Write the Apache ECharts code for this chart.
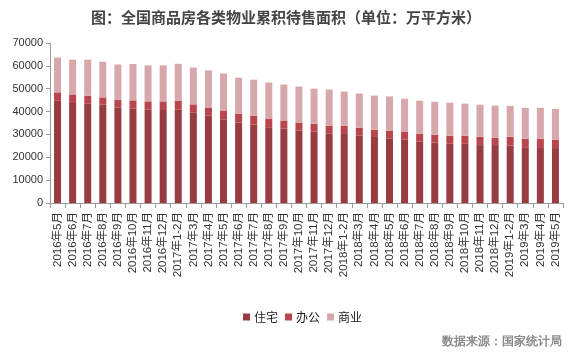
<!DOCTYPE html>
<html>
<head>
<meta charset="utf-8">
<script src="https://cdn.jsdelivr.net/npm/echarts@6/dist/echarts.min.js"></script>
<style>html,body{margin:0;padding:0;background:#fff;}#c{width:572px;height:356px;}</style>
</head>
<body>
<div id="c"></div>
<script>
const categories = ['2016年5月','2016年6月','2016年7月','2016年8月','2016年9月','2016年10月','2016年11月','2016年12月',
  '2017年1-2月','2017年3月','2017年4月','2017年5月','2017年6月','2017年7月','2017年8月','2017年9月','2017年10月','2017年11月','2017年12月',
  '2018年1-2月','2018年3月','2018年4月','2018年5月','2018年6月','2018年7月','2018年8月','2018年9月','2018年10月','2018年11月','2018年12月',
  '2019年1-2月','2019年3月','2019年4月','2019年5月'];
const residential = [44700,43750,43400,43000,41800,41400,40950,40700,40800,39650,38200,36600,35150,34260,33150,32500,31780,31200,30470,30190,29440,28870,28300,27700,26830,26400,25950,25870,25300,24930,25150,24420,24050,23620];
const office = [3700,3750,3500,3200,3400,3500,3500,3750,3960,3500,3570,3850,3950,3940,3800,3580,3420,3490,3350,3630,3500,3200,3400,3350,3490,3480,3490,3570,3700,3640,3850,3710,4080,4070];
const commercial = [15200,15200,15800,15600,15400,15900,15750,15750,16140,16100,16260,16200,15720,15740,15750,15720,15750,15310,15820,14940,14940,14940,14940,14580,14440,14440,14440,14000,14000,14000,13500,13490,13490,13490];
const yTicks = [0,10000,20000,30000,40000,50000,60000,70000];
const seriesNames = ['住宅','办公','商业'];
const colors = ['#973c41','#b9464d','#d6a7ab'];

const font = '"Liberation Sans", "Noto Sans CJK SC", sans-serif';
const chart = echarts.init(document.getElementById('c'), null, {renderer:'canvas'});
const mk = (name, data, i) => ({
  name, type:'bar', stack:'total', data, barWidth:7,
  itemStyle:{color:colors[i]}
});
chart.setOption({
  animation:false,
  backgroundColor:'#fff',
  color:colors,
  title:{
    text:'图：全国商品房各类物业累积待售面积（单位：万平方米）',
    left:'center', top:5,
    textStyle:{fontSize:15, fontWeight:'bold', color:'#444', fontFamily:'"Noto Sans CJK SC", sans-serif'}
  },
  legend:{
    data:seriesNames, top:306, left:238,
    itemWidth:7, itemHeight:7, itemGap:7,
    icon:'rect',
    textStyle:{fontSize:12, color:'#222', fontFamily:'"Noto Sans CJK SC", sans-serif', padding:[0,0,0,-1]}
  },
  grid:{left:50, right:9, top:43, bottom:153, containLabel:false},
  xAxis:{
    type:'category', data:categories,
    axisLine:{lineStyle:{color:'#999'}},
    axisTick:{show:true, alignWithLabel:false, length:5, lineStyle:{color:'#999'}},
    axisLabel:{rotate:90, interval:0, fontSize:11.5, color:'#333', fontFamily:font, margin:9}
  },
  yAxis:{
    type:'value', min:yTicks[0], max:yTicks[yTicks.length-1], interval:10000,
    axisLine:{show:true, lineStyle:{color:'#999'}},
    axisTick:{show:true, length:4, lineStyle:{color:'#999'}},
    splitLine:{show:false},
    axisLabel:{fontSize:11, color:'#333', fontFamily:font, margin:7, formatter:v => String(v)}
  },
  graphic:[{
    type:'text', right:10, top:336,
    style:{text:'数据来源：国家统计局', fontSize:12, fontWeight:'bold', fill:'#8a8a8a', font:'bold 12px "Noto Sans CJK SC", sans-serif'}
  }],
  series:[mk(seriesNames[0], residential, 0), mk(seriesNames[1], office, 1), mk(seriesNames[2], commercial, 2)]
});
</script>
</body>
</html>
